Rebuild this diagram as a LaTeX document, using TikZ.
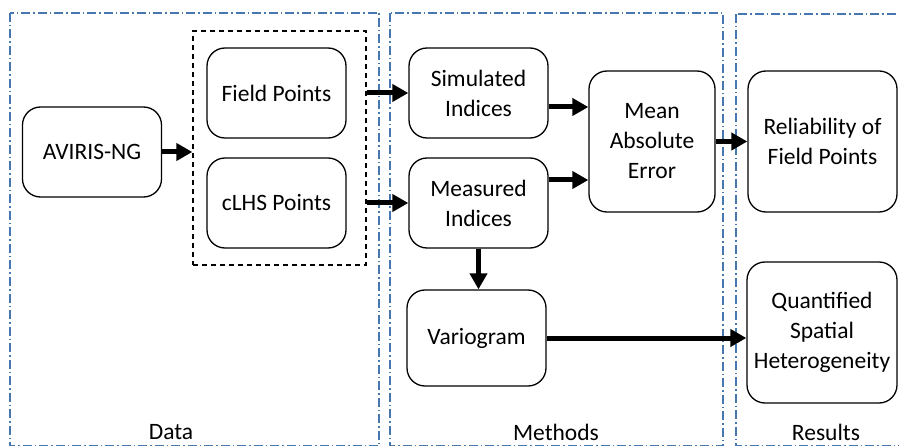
\documentclass[tikz,border=0pt]{standalone}
\usepackage{fontspec}
\setmainfont{Carlito}
\usetikzlibrary{arrows.meta}
\definecolor{panelblue}{RGB}{70,120,175}

\begin{document}
\begin{tikzpicture}[x=1pt,y=-1pt]
        \tikzstyle{every node}=[font=\fontsize{23.5}{30}\selectfont]
        \tikzstyle{box}=[draw, line width=1.3pt, rounded corners=18pt, align=center, inner sep=0pt]
        \tikzstyle{panel}=[draw=panelblue, line width=1.2pt, dash pattern=on 9pt off 3pt on 1.5pt off 3pt]
        \tikzstyle{flow}=[line width=5pt, -{Triangle[length=16pt,width=17pt]}]

        \useasboundingbox (0,0) rectangle (899,446);
        \clip (0,0) rectangle (899,446);

        % panels
        \draw[panel] (10,13) rectangle (379,446);
        \draw[panel] (390,13) rectangle (723,446);
        \draw[panel] (736,14) rectangle (920,446);

        \node   (data)    at (171,432) {Data};
        \node   (methods) at (556,432) {Methods};
        \node   (results) at (826,432) {Results};

        % data
        \node   (aviris)  [box, minimum width=139pt, minimum height=90pt] at (92,152) {AVIRIS-NG};
        \node   (pts)     [draw, line width=1.3pt, dash pattern=on 5pt off 4pt, minimum width=173pt, minimum height=234pt] at (279.5,148) {};
        \node   (field)   [box, minimum width=139pt, minimum height=90pt] at (276.5,93) {Field Points};
        \node   (clhs)    [box, minimum width=139pt, minimum height=90pt] at (276.5,203) {cLHS Points};

        % methods
        \node   (sim)     [box, minimum width=139pt, minimum height=90pt] at (478.5,93) {Simulated\\Indices};
        \node   (meas)    [box, minimum width=139pt, minimum height=90pt] at (478.5,203) {Measured\\Indices};
        \node   (mae)     [box, minimum width=126pt, minimum height=141pt] at (652,141.5) {Mean\\Absolute\\Error};
        \node   (vario)   [box, minimum width=139pt, minimum height=96pt] at (476.5,338) {Variogram};

        % results
        \node   (rel)     [box, minimum width=149pt, minimum height=141pt] at (822.5,141.5) {Reliability of\\Field Points};
        \node   (quant)   [box, minimum width=150pt, minimum height=141pt] at (822,332.5) {Quantified\\Spatial\\Heterogeneity};

        % arrows
        \draw[flow] (aviris.east) -- (aviris.east -| pts.west);
        \draw[flow] (pts.east |- field) -- (sim.west);
        \draw[flow] (pts.east |- clhs) -- (meas.west);
        \draw[flow] ([yshift=-14pt]sim.east) -- ([yshift=-14pt]sim.east -| mae.west);
        \draw[flow] ([yshift=23pt]meas.east) -- ([yshift=23pt]meas.east -| mae.west);
        \draw[flow] (mae.east) -- (rel.west);
        \draw[flow] (meas.south) -- (meas.south |- vario.north);
        \draw[flow] (vario.east) -- (vario.east -| quant.west);

    \end{tikzpicture}
\end{document}
